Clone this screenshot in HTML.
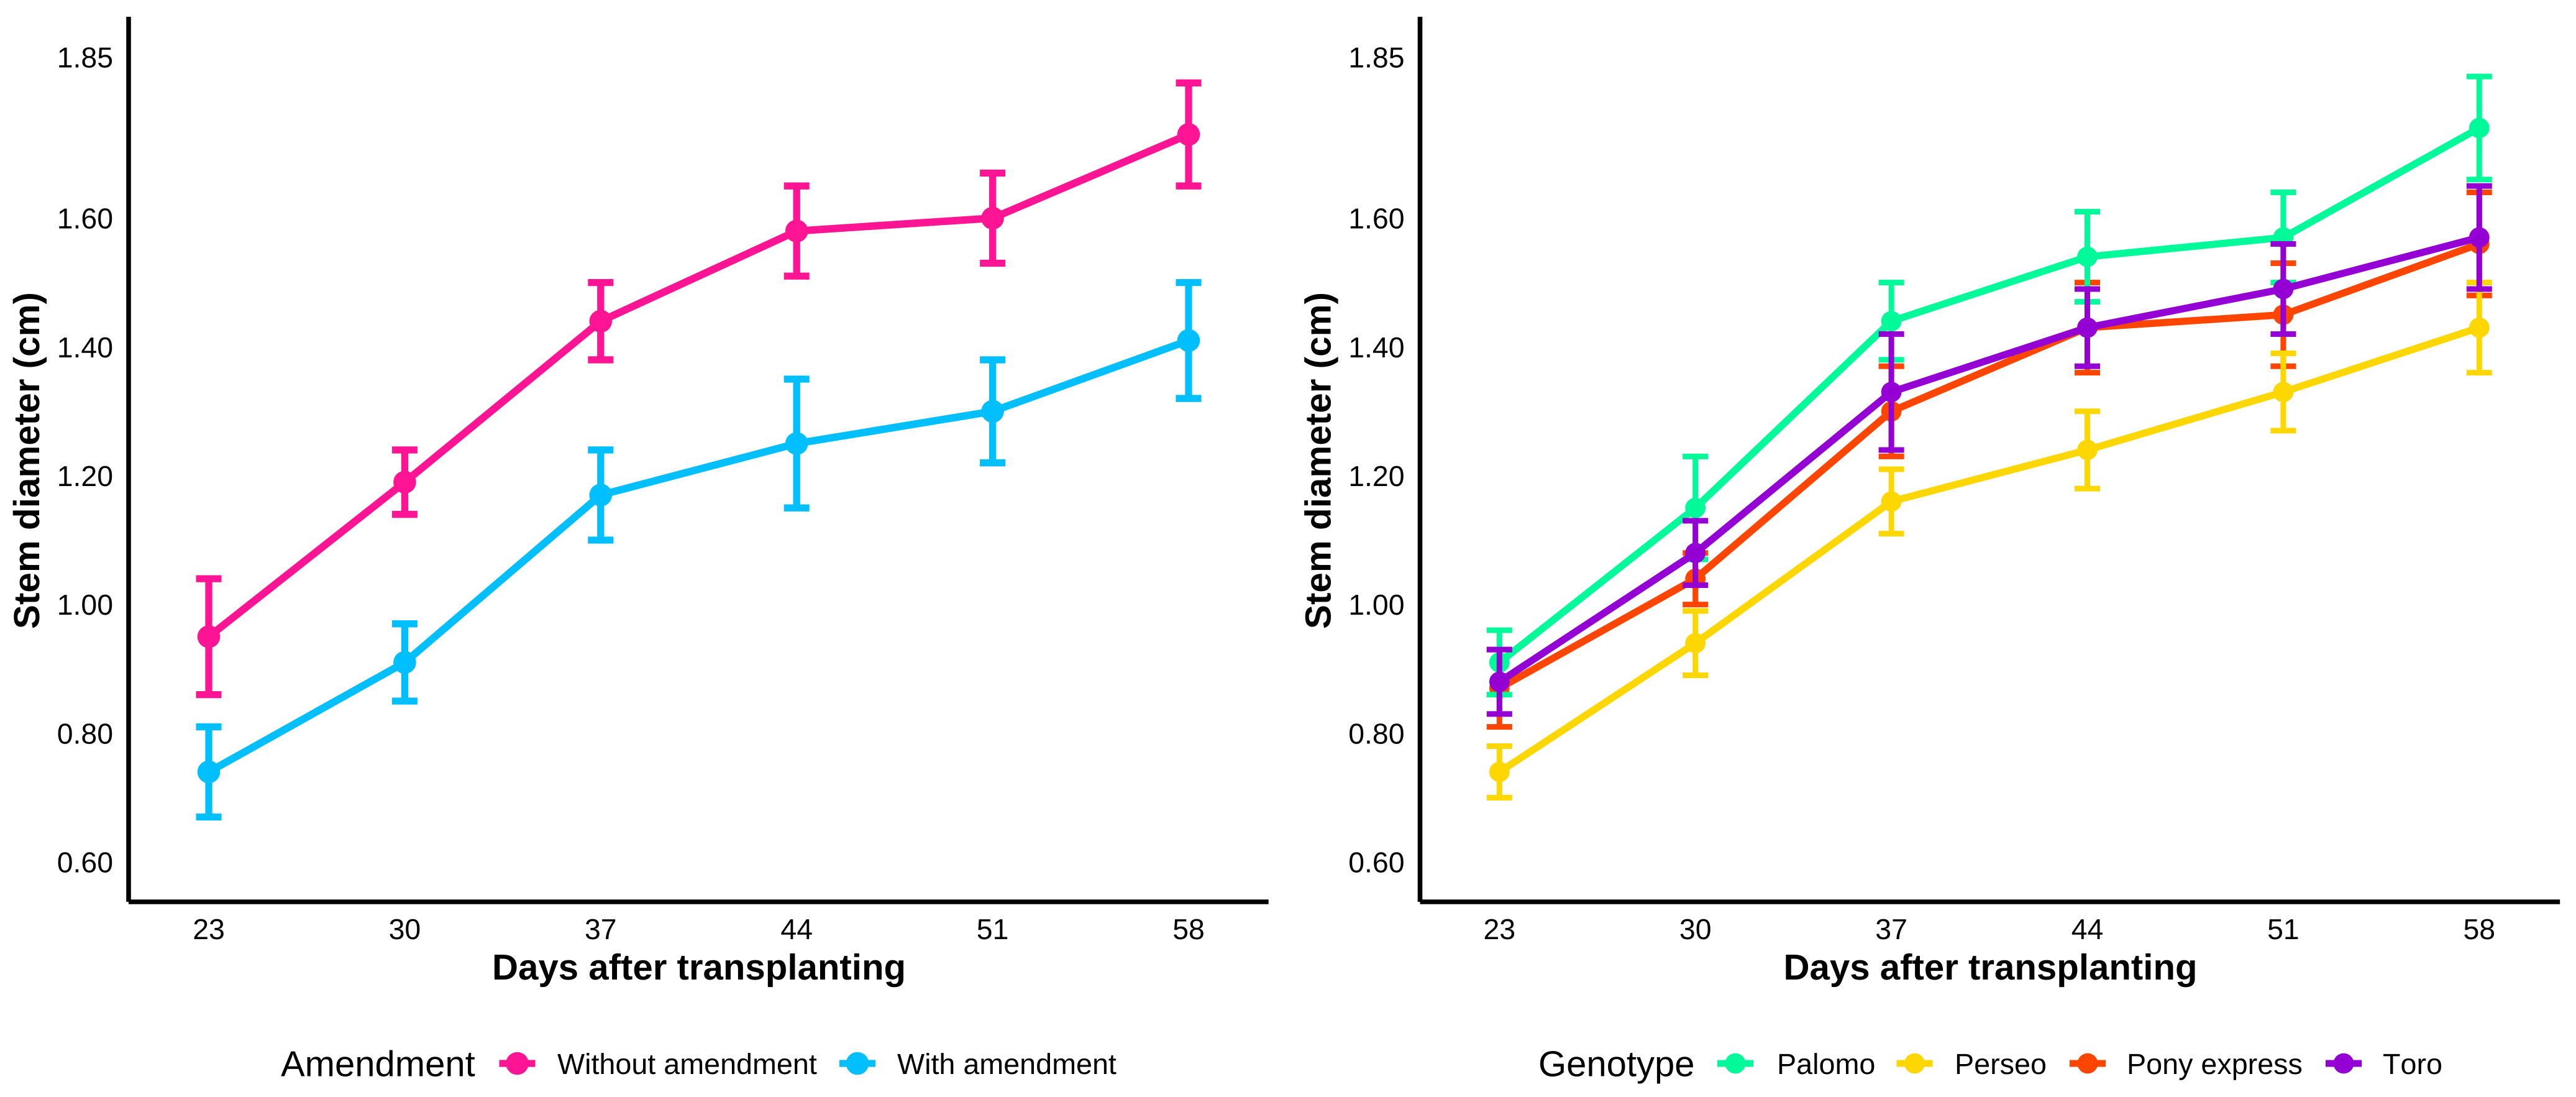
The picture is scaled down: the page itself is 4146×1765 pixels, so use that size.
<!DOCTYPE html>
<html lang="en">
<head>
<meta charset="utf-8">
<title>Stem diameter by amendment and genotype</title>
<style>
html,body{margin:0;padding:0;background:#fff;}
body{width:4146px;height:1765px;overflow:hidden;}
svg{display:block;}
text{font-family:"Liberation Sans",Arial,sans-serif;fill:#000;font-kerning:none;text-rendering:geometricPrecision;}
</style>
</head>
<body>
<svg id="chart" xmlns="http://www.w3.org/2000/svg" width="4146" height="1765" viewBox="0 0 4146 1765">
<rect x="0" y="0" width="4146" height="1765" fill="#ffffff"></rect>
</svg>
<script>
// Shared axes
const categories = ['23', '30', '37', '44', '51', '58'];
const yTickValues = [0.6, 0.8, 1.0, 1.2, 1.4, 1.6, 1.85];
const yTickLabels = ['0.60', '0.80', '1.00', '1.20', '1.40', '1.60', '1.85'];

// Amendment panel
const withoutAmendmentMean = [0.95, 1.19, 1.44, 1.58, 1.60, 1.73];
const withoutAmendmentLow = [0.86, 1.14, 1.38, 1.51, 1.53, 1.65];
const withoutAmendmentHigh = [1.04, 1.24, 1.50, 1.65, 1.67, 1.81];
const withAmendmentMean = [0.74, 0.91, 1.17, 1.25, 1.30, 1.41];
const withAmendmentLow = [0.67, 0.85, 1.10, 1.15, 1.22, 1.32];
const withAmendmentHigh = [0.81, 0.97, 1.24, 1.35, 1.38, 1.50];

// Genotype panel
const palomoMean = [0.91, 1.15, 1.44, 1.54, 1.57, 1.74];
const palomoLow = [0.86, 1.07, 1.38, 1.47, 1.50, 1.66];
const palomoHigh = [0.96, 1.23, 1.50, 1.61, 1.64, 1.82];
const perseoMean = [0.74, 0.94, 1.16, 1.24, 1.33, 1.43];
const perseoLow = [0.70, 0.89, 1.11, 1.18, 1.27, 1.36];
const perseoHigh = [0.78, 0.99, 1.21, 1.30, 1.39, 1.50];
const ponyMean = [0.87, 1.04, 1.30, 1.43, 1.45, 1.56];
const ponyLow = [0.81, 1.00, 1.23, 1.36, 1.37, 1.48];
const ponyHigh = [0.93, 1.08, 1.37, 1.50, 1.53, 1.64];
const toroMean = [0.88, 1.08, 1.33, 1.43, 1.49, 1.57];
const toroLow = [0.83, 1.03, 1.24, 1.37, 1.42, 1.49];
const toroHigh = [0.93, 1.13, 1.42, 1.49, 1.56, 1.65];

const svg = document.getElementById('chart');
const NS = 'http://www.w3.org/2000/svg';

function yScale(v) { return 351 + (1.6 - v) * 1036; }
function xScale(i, origin) { return origin + i * 315.4; }

function make(tag, attrs, parent) {
  const el = document.createElementNS(NS, tag);
  for (const k in attrs) el.setAttribute(k, attrs[k]);
  parent.appendChild(el);
  return el;
}

function slug(s) { return s.toLowerCase().replace(/[^a-z0-9]+/g, '-'); }

function drawSeries(parent, s, origin, lineW, barW, pointR) {
  const g = make('g', {}, parent);
  
  
  const pts = s.mean.map((v, i) => xScale(i, origin).toFixed(2) + ',' + yScale(v).toFixed(2)).join(' ');
  const line = make('polyline', { points: pts, fill: 'none', stroke: s.color, 'stroke-width': lineW, 'stroke-linejoin': 'round' }, g);
  
  
  s.mean.forEach((v, i) => {
    const x = xScale(i, origin);
    const top = yScale(s.high[i]);
    const bot = yScale(s.low[i]);
    const bar = make('path', {
      d: 'M' + (x - 20.5) + ' ' + top + 'H' + (x + 20.5) + 'M' + x + ' ' + top + 'V' + bot + 'M' + (x - 20.5) + ' ' + bot + 'H' + (x + 20.5),
      fill: 'none', stroke: s.color, 'stroke-width': barW
    }, g);
    
    
    const pt = make('circle', { cx: x, cy: yScale(v), r: pointR, fill: s.color }, g);
    
    
  });
}

function drawPanel(cfg) {
  const g = make('g', {}, svg);
  
  
  const axL = cfg.axisLeft;

  const yAxis = make('line', { x1: axL, y1: 27, x2: axL, y2: 1451, stroke: '#000', 'stroke-width': 7.6 }, g);
  
  
  const xAxis = make('line', { x1: axL, y1: 1451, x2: axL + 1834.7, y2: 1451, stroke: '#000', 'stroke-width': 7.6 }, g);
  
  

  yTickValues.forEach((v, i) => {
    const t = make('text', { x: axL - 25, y: yScale(v) + 16.6, 'text-anchor': 'end', 'font-size': 46.4 }, g);
    t.textContent = yTickLabels[i];
    
    
  });
  categories.forEach((c, i) => {
    const t = make('text', { x: xScale(i, cfg.origin), y: 1511, 'text-anchor': 'middle', 'font-size': 46.4 }, g);
    t.textContent = c;
    
    
  });

  const xt = make('text', { x: axL + 918, y: 1576, 'text-anchor': 'middle', 'font-size': 58.2, 'font-weight': 'bold' }, g);
  xt.textContent = 'Days after transplanting';
  
  

  const yX = axL - 144;
  const yt = make('text', { x: yX, y: 741, 'text-anchor': 'middle', 'font-size': 58.4, 'font-weight': 'bold', transform: 'rotate(-90 ' + yX + ' 741)' }, g);
  yt.textContent = 'Stem diameter (cm)';
  
  

  cfg.drawOrder.forEach(s => drawSeries(g, s, cfg.origin, cfg.lineW, cfg.barW, cfg.pointR));

  const lg = make('g', {}, g);
  
  
  const lt = make('text', { x: cfg.legendTitleX, y: 1731.5, 'font-size': 58 }, lg);
  lt.textContent = cfg.legendTitle;
  
  
  cfg.legendSeries.forEach((s, i) => {
    const e = make('g', {}, lg);
    
    
    const kx = cfg.legendKeyX[i];
    make('line', { x1: kx - 29, y1: 1711, x2: kx + 29, y2: 1711, stroke: s.color, 'stroke-width': cfg.legendLineW }, e);
    make('circle', { cx: kx, cy: 1711, r: cfg.pointR, fill: s.color }, e);
    const t = make('text', { x: cfg.legendLabelX[i], y: 1728, 'font-size': 46.7 }, e);
    t.textContent = s.name;
  });
}

const leftSeries = [
  { name: 'Without amendment', color: '#FF1493', mean: withoutAmendmentMean, low: withoutAmendmentLow, high: withoutAmendmentHigh },
  { name: 'With amendment', color: '#00BFFF', mean: withAmendmentMean, low: withAmendmentLow, high: withAmendmentHigh }
];
const palomo = { name: 'Palomo', color: '#00FA9A', mean: palomoMean, low: palomoLow, high: palomoHigh };
const perseo = { name: 'Perseo', color: '#FFD700', mean: perseoMean, low: perseoLow, high: perseoHigh };
const pony = { name: 'Pony express', color: '#FF4500', mean: ponyMean, low: ponyLow, high: ponyHigh };
const toro = { name: 'Toro', color: '#9400D3', mean: toroMean, low: toroLow, high: toroHigh };

drawPanel({
  id: 'amendment', axisLeft: 207, origin: 336,
  lineW: 12, barW: 11.3, pointR: 18.3,
  drawOrder: leftSeries, legendSeries: leftSeries,
  legendTitle: 'Amendment', legendTitleX: 452, legendLineW: 11.3,
  legendKeyX: [832.5, 1380], legendLabelX: [897, 1444]
});
drawPanel({
  id: 'genotype', axisLeft: 2285.5, origin: 2413.3,
  lineW: 11.5, barW: 9, pointR: 16.4,
  drawOrder: [pony, palomo, perseo, toro], legendSeries: [palomo, perseo, pony, toro],
  legendTitle: 'Genotype', legendTitleX: 2476, legendLineW: 11,
  legendKeyX: [2793, 3081.5, 3360, 3772], legendLabelX: [2860, 3146, 3423, 3835]
});
</script>
</body>
</html>
